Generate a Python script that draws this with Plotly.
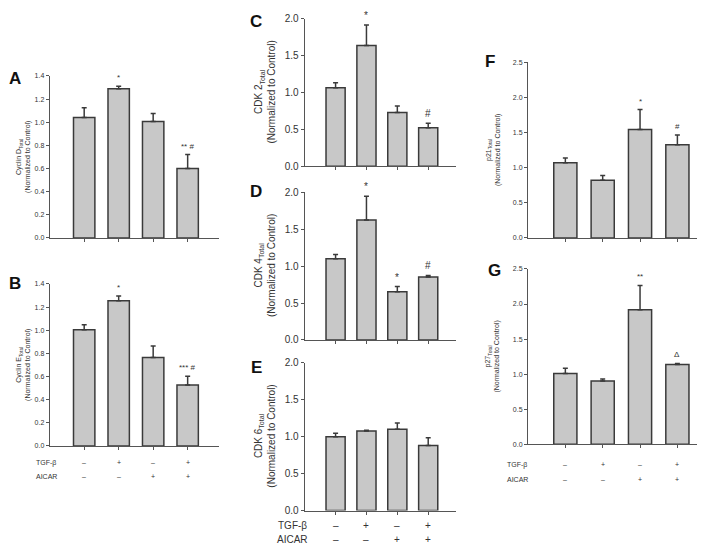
import plotly.graph_objects as go

W, H = 705, 544

categories = ["Control", "TGF-β", "AICAR", "TGF-β + AICAR"]
tgf_signs = ["–", "+", "–", "+"]
aicar_signs = ["–", "–", "+", "+"]

cyclin_d = [1.04, 1.29, 1.005, 0.60]
cyclin_d_err = [0.085, 0.02, 0.07, 0.12]
cyclin_d_sig = ["", "*", "", "** #"]

cyclin_e = [1.005, 1.255, 0.764, 0.527]
cyclin_e_err = [0.043, 0.04, 0.10, 0.076]
cyclin_e_sig = ["", "*", "", "*** #"]

cdk2 = [1.067, 1.638, 0.73, 0.523]
cdk2_err = [0.066, 0.278, 0.089, 0.061]
cdk2_sig = ["", "*", "", "#"]

cdk4 = [1.099, 1.624, 0.653, 0.852]
cdk4_err = [0.057, 0.323, 0.07, 0.022]
cdk4_sig = ["", "*", "*", "#"]

cdk6 = [0.999, 1.078, 1.099, 0.879]
cdk6_err = [0.047, 0.008, 0.085, 0.106]
cdk6_sig = ["", "", "", ""]

p21 = [1.071, 0.821, 1.544, 1.326]
p21_err = [0.065, 0.069, 0.283, 0.139]
p21_sig = ["", "", "*", "#"]

p27 = [1.008, 0.902, 1.92, 1.139]
p27_err = [0.075, 0.028, 0.344, 0.014]
p27_sig = ["", "", "**", "Δ"]

FONT = "Arial, Liberation Sans, sans-serif"
BAR_FILL = "#c8c8c8"
DARK = "#3a3a3a"
AX = "#555555"
TXT = "#333333"

panels = [
    dict(letter="A", v=cyclin_d, e=cyclin_d_err, s=cyclin_d_sig, name="Cyclin D", xd=(41.7, 210.7), yd=(63.3, 229), yr=1.4, dt=0.2, fs=7, lp=(7, 66), tx=16, rows=None),
    dict(letter="B", v=cyclin_e, e=cyclin_e_err, s=cyclin_e_sig, name="Cyclin E", xd=(41.7, 210.7), yd=(276, 441.7), yr=1.4, dt=0.2, fs=7, lp=(7, 276), tx=16, rows=(459, 473, 38)),
    dict(letter="C", v=cdk2, e=cdk2_err, s=cdk2_sig, name="CDK 2", xd=(296.7, 448), yd=(5, 155.7), yr=2.0, dt=0.5, fs=10, lp=(248, 8), tx=257, rows=None),
    dict(letter="D", v=cdk4, e=cdk4_err, s=cdk4_sig, name="CDK 4", xd=(296.7, 448), yd=(182.3, 333.3), yr=2.0, dt=0.5, fs=10, lp=(248, 181), tx=257, rows=None),
    dict(letter="E", v=cdk6, e=cdk6_err, s=cdk6_sig, name="CDK 6", xd=(296.7, 448), yd=(356.7, 507.7), yr=2.0, dt=0.5, fs=10, lp=(248, 361), tx=257, rows=(523, 537, 284)),
    dict(letter="F", v=p21, e=p21_err, s=p21_sig, name="p21", xd=(520, 703), yd=(49.3, 229), yr=2.5, dt=0.5, fs=7, lp=(482, 49), tx=485, rows=None),
    dict(letter="G", v=p27, e=p27_err, s=p27_sig, name="p27", xd=(520, 703), yd=(260.7, 440), yr=2.5, dt=0.5, fs=7, lp=(486, 262), tx=485, rows=(461, 476, 509)),
]

fig = go.Figure()
annotations = []
layout = {}


def px_x(x):
    return x / W


def px_y(y):
    return 1 - y / H


for i, p in enumerate(panels, start=1):
    xa = "x" if i == 1 else f"x{i}"
    ya = "y" if i == 1 else f"y{i}"
    xkey = "xaxis" if i == 1 else f"xaxis{i}"
    ykey = "yaxis" if i == 1 else f"yaxis{i}"
    fig.add_trace(go.Bar(
        x=categories, y=p["v"], xaxis=xa, yaxis=ya, width=0.62,
        marker=dict(color=BAR_FILL, line=dict(color=DARK, width=1.5)),
        error_y=dict(type="data", array=p["e"], arrayminus=[0] * len(p["e"]), symmetric=False,
                     color=DARK, thickness=1.5, width=2.5),
        showlegend=False, hoverinfo="skip",
    ))
    layout[xkey] = dict(
        domain=[px_x(p["xd"][0]), px_x(p["xd"][1])], anchor=ya,
        type="category", range=[-1, 3.9], showline=True, linecolor=AX, linewidth=1,
        ticks="outside", ticklen=3, tickcolor=AX, showticklabels=False, showgrid=False, zeroline=False,
    )
    layout[ykey] = dict(
        domain=[px_y(p["yd"][1]), px_y(p["yd"][0])], anchor=xa,
        range=[0, p["yr"]], dtick=p["dt"], tick0=0, tickformat=".1f",
        showline=True, linecolor=AX, linewidth=1, ticks="outside", ticklen=3, tickcolor=AX,
        tickfont=dict(size=p["fs"], color=TXT, family=FONT), showgrid=False, zeroline=False,
    )
    annotations.append(dict(text=f"<b>{p['letter']}</b>", x=px_x(p["lp"][0]), y=px_y(p["lp"][1]),
                            xref="paper", yref="paper", showarrow=False, xanchor="center", yanchor="middle",
                            font=dict(size=17, color="#111", family=FONT)))
    ycen = px_y((p["yd"][0] + p["yd"][1]) / 2)
    annotations.append(dict(text=f"{p['name']}<sub>Total</sub><br>(Normalized to Control)",
                            x=px_x(p["tx"]), y=ycen,
                            xref="paper", yref="paper", showarrow=False, textangle=-90,
                            xanchor="center", yanchor="middle",
                            font=dict(size=p["fs"], color=TXT, family=FONT)))
    for c, val, err, s in zip(categories, p["v"], p["e"], p["s"]):
        if s:
            annotations.append(dict(text=s, x=c, y=val + err, xref=xa, yref=ya, showarrow=False,
                                    xanchor="center", yanchor="bottom", yshift=2,
                                    font=dict(size=max(p["fs"], 8), color=TXT, family=FONT)))
    if p["rows"]:
        ty, ay, lx = p["rows"]
        for label, rowy, signs in (("TGF-β", ty, tgf_signs), ("AICAR", ay, aicar_signs)):
            annotations.append(dict(text=label, x=px_x(lx), y=px_y(rowy), xref="paper", yref="paper",
                                    showarrow=False, xanchor="center", yanchor="middle",
                                    font=dict(size=p["fs"], color=TXT, family=FONT)))
            for c, sg in zip(categories, signs):
                annotations.append(dict(text=sg, x=c, y=px_y(rowy), xref=xa, yref="paper",
                                        showarrow=False, xanchor="center", yanchor="middle",
                                        font=dict(size=p["fs"], color=TXT, family=FONT)))

fig.update_layout(
    width=W, height=H, autosize=False,
    margin=dict(l=0, r=0, t=0, b=0),
    paper_bgcolor="white", plot_bgcolor="white",
    annotations=annotations,
    font=dict(family=FONT),
    **layout,
)

fig.write_html("out.html")
